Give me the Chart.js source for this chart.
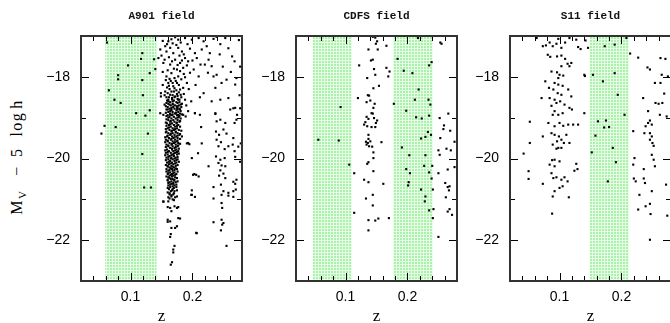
<!DOCTYPE html>
<html>
<head>
<meta charset="utf-8">
<script src="https://cdn.jsdelivr.net/npm/chart.js@4/dist/chart.umd.min.js"></script>
<style>
  body { margin: 0; width: 670px; height: 323px; overflow: hidden; background: #fff; position: relative; }
  canvas { position: absolute; top: 0; }
  #ylab {
    position: absolute; left: 19px; top: 157px;
    transform: translate(-50%, -50%) rotate(-90deg);
    white-space: nowrap; font: 16px 'Liberation Serif', serif; color: #000;
    line-height: 18px; letter-spacing: 1.5px;
  }
  #ylab sub { font-size: 11px; vertical-align: -4px; }
</style>
</head>
<body>
<canvas id="c1" width="210" height="323" style="left:40px"></canvas>
<canvas id="c2" width="210" height="323" style="left:255px"></canvas>
<canvas id="c3" width="210" height="323" style="left:469px"></canvas>
<div id="ylab"><span>M<sub>V</sub></span><span style="margin-left:14px">−</span><span style="margin-left:8px">5</span><span style="margin-left:11px">log</span><span style="margin-left:3px">h</span></div>
<script>
// axes
const zRange = [0.02, 0.28];
const mRange = [-23, -17];
const zTicks = [0.1, 0.2];
const mTicks = [-22, -20, -18];
const zMinorTicks = [0.04, 0.06, 0.08, 0.12, 0.14, 0.16, 0.18, 0.22, 0.24, 0.26];
const mMinorTicks = [-21, -19];

// shaded redshift windows
const a901Bands = [[0.059, 0.142]];
const cdfsBands = [[0.047, 0.110], [0.177, 0.241]];
const s11Bands = [[0.149, 0.212]];

// A901 field  [z, M_V - 5 log h]
const a901Fore = [
  [0.062,-17.16],[0.119,-17.42],[0.117,-17.56],[0.096,-17.72],[0.131,-17.91],[0.080,-17.96],[0.080,-18.06],
  [0.119,-18.08],[0.065,-18.33],[0.120,-18.45],[0.074,-18.56],[0.084,-18.64],[0.131,-18.82],[0.109,-18.89],
  [0.124,-18.95],[0.058,-19.20],[0.076,-19.23],[0.053,-19.39],[0.128,-19.39],[0.119,-19.89],[0.122,-20.71],
  [0.133,-20.71],[0.138,-17.57],[0.140,-17.81]
];
const a901Top = [
  [0.264,-17.50],[0.268,-17.62],[0.271,-18.03],[0.255,-18.07],[0.269,-18.19],[0.234,-17.99],[0.239,-17.95],
  [0.247,-18.15],[0.237,-18.27],[0.231,-17.74],[0.220,-17.70],[0.226,-17.58],[0.215,-17.33],[0.223,-17.25],
  [0.234,-17.07],[0.239,-17.02],[0.253,-17.05],[0.210,-17.05],[0.218,-17.13],[0.204,-17.42],[0.207,-17.54],
  [0.193,-17.62],[0.202,-17.82],[0.210,-17.99],[0.218,-18.40],[0.231,-18.60],[0.245,-18.56],[0.258,-18.52],
  [0.261,-18.80],[0.269,-18.76],[0.237,-18.89],[0.204,-18.89],[0.193,-18.84],[0.188,-18.56],[0.185,-18.27],
  [0.191,-18.15],[0.199,-17.09],[0.188,-17.05],[0.177,-17.09],[0.172,-17.03],[0.166,-17.08],[0.161,-17.13],
  [0.156,-17.25],[0.148,-17.33],[0.145,-17.54],[0.150,-17.48],[0.153,-17.66],[0.158,-17.38],[0.164,-17.29],
  [0.169,-17.42],[0.177,-17.29],[0.183,-17.38],[0.172,-17.58],[0.164,-17.70],[0.180,-17.66],[0.188,-17.54],
  [0.185,-17.78],[0.175,-17.82],[0.166,-17.91],[0.158,-17.99],[0.171,-18.03],[0.177,-17.99],[0.161,-18.15],
  [0.169,-18.23],[0.175,-18.15],[0.180,-18.31],[0.156,-18.36],[0.164,-18.44],[0.172,-18.48],[0.177,-18.56],
  [0.161,-18.60],[0.169,-18.68],[0.175,-18.76],[0.166,-18.80],[0.173,-18.89],[0.164,-18.93],[0.177,-18.93],
  [0.155,-18.68],[0.149,-18.48],[0.148,-18.89],
  [0.152,-17.12],[0.159,-17.20],[0.168,-17.18],[0.174,-17.22],[0.181,-17.16],[0.192,-17.20],[0.196,-17.31],
  [0.186,-17.45],[0.179,-17.48],[0.162,-17.52],[0.155,-17.58],[0.167,-17.62],[0.176,-17.71],[0.183,-17.60],
  [0.191,-17.72],[0.196,-17.90],[0.186,-17.93],[0.180,-17.86],[0.170,-17.80],[0.160,-17.84],[0.152,-17.88],
  [0.157,-18.08],[0.165,-18.10],[0.173,-18.10],[0.182,-18.06],[0.188,-18.01],[0.194,-18.30],[0.186,-18.42],
  [0.178,-18.38],[0.170,-18.36],[0.163,-18.30],[0.152,-18.20],[0.158,-18.50],[0.167,-18.55],[0.182,-18.50],
  [0.190,-18.70],[0.183,-18.66],[0.180,-18.80],[0.160,-18.80],[0.205,-18.20],[0.198,-18.60],[0.212,-18.50],
  [0.225,-17.90],[0.213,-17.70],[0.200,-17.60],[0.228,-17.42],[0.244,-17.45],[0.249,-17.75],[0.245,-17.20],
  [0.258,-17.30],[0.275,-17.10],[0.262,-17.88],[0.276,-18.45],[0.277,-17.75],
  [0.160,-18.40],[0.168,-18.45],[0.175,-18.42],[0.162,-18.22],[0.171,-18.28],[0.178,-18.20],[0.166,-18.36],
  [0.159,-18.26],[0.174,-18.33],[0.181,-18.44],[0.155,-18.45],[0.168,-18.15],[0.163,-18.05],[0.176,-18.47]
];
const a901Core = [
  [0.162,-18.50],[0.171,-18.50],[0.176,-18.54],
  [0.159,-18.58],[0.170,-18.58],[0.164,-18.62],[0.174,-18.62],[0.179,-18.62],
  [0.161,-18.66],[0.168,-18.66],[0.165,-18.70],[0.172,-18.70],[0.178,-18.70],
  [0.160,-18.74],[0.169,-18.74],[0.176,-18.74],[0.182,-18.74],[0.163,-18.78],[0.171,-18.78],[0.179,-18.78],
  [0.166,-18.82],[0.174,-18.82],[0.161,-18.86],[0.168,-18.86],[0.177,-18.86],
  [0.164,-18.90],[0.172,-18.90],[0.180,-18.90],[0.160,-18.94],[0.167,-18.94],[0.175,-18.94],
  [0.163,-18.98],[0.170,-18.98],[0.178,-18.98],[0.166,-19.02],[0.173,-19.02],[0.181,-19.02],
  [0.161,-19.06],[0.169,-19.06],[0.176,-19.06],[0.164,-19.10],[0.171,-19.10],[0.179,-19.10],
  [0.159,-19.14],[0.167,-19.14],[0.174,-19.14],[0.162,-19.18],[0.170,-19.18],[0.177,-19.18],
  [0.165,-19.22],[0.172,-19.22],[0.180,-19.22],[0.160,-19.26],[0.168,-19.26],[0.175,-19.26],
  [0.163,-19.30],[0.170,-19.30],[0.178,-19.30],[0.158,-19.34],[0.166,-19.34],[0.173,-19.34],
  [0.161,-19.38],[0.168,-19.38],[0.176,-19.38],[0.164,-19.42],[0.171,-19.42],[0.179,-19.42],
  [0.159,-19.46],[0.167,-19.46],[0.174,-19.46],[0.162,-19.50],[0.169,-19.50],[0.176,-19.50],
  [0.157,-19.54],[0.165,-19.54],[0.172,-19.54],[0.160,-19.58],[0.168,-19.58],[0.175,-19.58],
  [0.163,-19.62],[0.170,-19.62],[0.177,-19.62],[0.158,-19.66],[0.166,-19.66],[0.173,-19.66],
  [0.161,-19.70],[0.168,-19.70],[0.176,-19.70],[0.164,-19.74],[0.171,-19.74],
  [0.159,-19.78],[0.167,-19.78],[0.174,-19.78],[0.162,-19.82],[0.169,-19.82],[0.177,-19.82],
  [0.157,-19.86],[0.165,-19.86],[0.172,-19.86],[0.160,-19.90],[0.168,-19.90],[0.175,-19.90],
  [0.163,-19.94],[0.170,-19.94],[0.158,-19.98],[0.166,-19.98],[0.173,-19.98],
  [0.161,-20.02],[0.168,-20.02],[0.176,-20.02],[0.164,-20.06],[0.171,-20.06],
  [0.159,-20.10],[0.167,-20.10],[0.174,-20.10],[0.162,-20.14],[0.169,-20.14],
  [0.160,-20.18],[0.166,-20.18],[0.173,-20.18],[0.163,-20.22],[0.170,-20.22],
  [0.158,-20.26],[0.167,-20.26],[0.175,-20.26],[0.161,-20.30],[0.168,-20.30],
  [0.164,-20.34],[0.171,-20.34],[0.160,-20.38],[0.167,-20.38],[0.174,-20.38],
  [0.163,-20.42],[0.169,-20.42],[0.161,-20.46],[0.172,-20.46],[0.165,-20.50],[0.168,-20.50],
  [0.160,-20.54],[0.170,-20.54],[0.163,-20.58],[0.173,-20.58],[0.166,-20.62],[0.169,-20.62],
  [0.161,-20.66],[0.171,-20.66],[0.164,-20.70],[0.174,-20.70],[0.162,-20.75],[0.168,-20.75],
  [0.165,-20.80],[0.171,-20.80],[0.163,-20.85],[0.170,-20.85],[0.166,-20.90],
  [0.161,-20.95],[0.172,-20.95],[0.168,-21.00]
];
const a901Core2 = [
  [0.167,-18.52],[0.161,-18.56],[0.179,-18.56],[0.168,-18.60],
  [0.158,-18.64],[0.176,-18.64],[0.163,-18.68],[0.181,-18.68],[0.157,-18.72],[0.175,-18.72],
  [0.166,-18.76],[0.158,-18.80],[0.176,-18.80],[0.164,-18.84],[0.181,-18.84],
  [0.157,-18.88],[0.173,-18.88],[0.168,-18.92],[0.183,-18.92],[0.158,-18.96],[0.179,-18.96],
  [0.161,-19.00],[0.176,-19.00],[0.158,-19.04],[0.165,-19.08],[0.180,-19.08],
  [0.157,-19.12],[0.175,-19.12],[0.164,-19.16],[0.158,-19.20],[0.175,-19.20],
  [0.162,-19.24],[0.157,-19.28],[0.172,-19.28],[0.167,-19.32],[0.182,-19.32],
  [0.157,-19.36],[0.173,-19.36],[0.165,-19.40],[0.180,-19.40],[0.160,-19.44],[0.176,-19.44],
  [0.156,-19.48],[0.171,-19.48],[0.166,-19.52],[0.180,-19.52],[0.160,-19.56],[0.176,-19.56],
  [0.156,-19.60],[0.172,-19.60],[0.167,-19.64],[0.180,-19.64],[0.161,-19.68],[0.177,-19.68],
  [0.157,-19.72],[0.173,-19.72],[0.167,-19.76],[0.178,-19.76],[0.156,-19.80],[0.172,-19.80],
  [0.160,-19.84],[0.175,-19.84],[0.170,-19.88],[0.178,-19.88],[0.156,-19.92],[0.166,-19.92],
  [0.161,-19.96],[0.176,-19.96],[0.165,-20.00],[0.171,-20.00],[0.157,-20.04],[0.174,-20.04],
  [0.162,-20.08],[0.178,-20.08],[0.165,-20.12],[0.172,-20.12],[0.157,-20.16],[0.176,-20.16],
  [0.168,-20.20],[0.160,-20.20],[0.165,-20.24],[0.173,-20.24],[0.163,-20.28],[0.171,-20.28],
  [0.158,-20.32],[0.176,-20.32],[0.161,-20.36],[0.169,-20.36],[0.165,-20.40],[0.172,-20.40],
  [0.158,-20.44],[0.167,-20.44],[0.163,-20.48],[0.175,-20.48],[0.160,-20.52],[0.171,-20.52],
  [0.166,-20.56],[0.176,-20.56],[0.161,-20.60],[0.169,-20.60],[0.164,-20.64],[0.174,-20.64],
  [0.168,-20.68],[0.160,-20.72],[0.170,-20.72],[0.167,-20.78],[0.175,-20.78],[0.160,-20.83],
  [0.169,-20.88],[0.163,-20.88],[0.166,-20.93],[0.175,-20.93],[0.163,-20.98],[0.170,-21.02]
];
const a901Back = [
  [0.185,-18.93],[0.189,-18.97],[0.204,-18.89],[0.214,-19.23],[0.237,-18.91],[0.193,-19.62],[0.183,-19.46],
  [0.209,-19.87],[0.226,-20.19],[0.199,-19.99],[0.201,-20.40],[0.210,-20.44],[0.199,-20.78],[0.239,-19.09],
  [0.245,-19.05],[0.253,-19.13],[0.238,-19.34],[0.243,-19.42],[0.250,-19.29],[0.255,-19.39],[0.239,-19.54],
  [0.246,-19.60],[0.242,-19.70],[0.252,-19.77],[0.258,-19.70],[0.265,-19.66],[0.268,-19.82],[0.238,-19.95],
  [0.245,-20.03],[0.252,-19.99],[0.242,-20.11],[0.247,-20.17],[0.253,-20.19],[0.245,-20.29],[0.250,-20.37],
  [0.243,-20.42],[0.253,-20.48],[0.246,-20.64],[0.234,-20.70],[0.250,-20.80],[0.266,-20.80],[0.270,-20.76],
  [0.271,-19.05],[0.268,-19.13],[0.258,-20.84],
  [0.161,-21.05],[0.171,-21.17],[0.164,-21.21],[0.175,-21.21],[0.177,-21.19],[0.160,-21.19],[0.153,-21.05],
  [0.166,-21.29],[0.198,-20.89],[0.204,-20.94],[0.234,-20.98],[0.247,-20.89],[0.258,-20.91],[0.266,-20.94],
  [0.247,-21.09],[0.248,-21.21],[0.160,-21.50],[0.164,-21.54],[0.177,-21.46],[0.180,-21.47],[0.175,-21.66],
  [0.172,-21.70],[0.166,-21.70],[0.165,-21.85],[0.164,-21.92],[0.247,-21.50],[0.248,-21.62],[0.250,-21.58],
  [0.246,-21.76],[0.234,-21.56],[0.206,-21.82],[0.255,-22.14],[0.171,-22.14],[0.169,-22.23],[0.169,-22.30],
  [0.167,-22.54],[0.165,-22.60],
  [0.191,-19.63],[0.195,-19.65],[0.212,-18.93],[0.215,-19.63],[0.203,-20.38],[0.206,-20.40],[0.199,-20.89],
  [0.207,-21.83],[0.149,-18.40],[0.153,-18.93],[0.153,-21.06],[0.160,-21.55],
  [0.277,-18.77],[0.266,-18.77],[0.272,-18.93],[0.266,-19.50],[0.274,-19.71],[0.278,-19.63],[0.269,-19.96],
  [0.277,-20.08],[0.271,-20.52],[0.266,-20.57],[0.269,-20.62]
];

// CDFS field
const cdfsPoints = [
  [0.144,-17.02],[0.148,-17.04],[0.151,-17.13],[0.149,-17.19],[0.166,-17.24],[0.152,-17.33],[0.137,-17.33],
  [0.144,-17.58],[0.141,-17.60],[0.122,-17.72],[0.146,-17.81],[0.166,-17.78],[0.171,-17.87],[0.148,-17.95],
  [0.135,-18.03],[0.169,-17.99],[0.154,-18.22],[0.145,-18.28],[0.120,-18.52],[0.136,-18.45],[0.138,-18.46],
  [0.140,-18.58],[0.134,-18.62],[0.147,-18.66],[0.145,-18.76],[0.092,-18.74],[0.142,-18.89],[0.144,-18.90],
  [0.134,-18.98],[0.137,-19.03],[0.146,-19.01],[0.149,-19.13],[0.151,-19.07],[0.132,-19.11],[0.130,-19.17],
  [0.135,-19.21],[0.142,-19.23],[0.148,-19.23],[0.137,-19.42],[0.137,-19.52],[0.133,-19.59],[0.136,-19.62],
  [0.140,-19.58],[0.134,-19.66],[0.138,-19.70],[0.158,-19.60],[0.143,-19.71],[0.056,-19.54],[0.089,-19.56],
  [0.145,-19.85],[0.106,-20.15],[0.114,-20.36],[0.137,-20.09],[0.135,-20.13],[0.145,-19.99],[0.145,-20.31],
  [0.130,-20.52],[0.137,-20.58],[0.161,-20.62],[0.144,-20.89],[0.133,-20.98],[0.144,-21.15],[0.114,-21.33],
  [0.137,-21.51],[0.148,-21.52],[0.153,-21.47],[0.170,-21.46],[0.137,-21.76],
  [0.184,-17.56],[0.194,-17.85],[0.208,-17.91],[0.235,-17.72],[0.239,-17.64],[0.253,-17.16],[0.255,-17.19],
  [0.217,-17.05],[0.218,-18.31],[0.212,-18.56],[0.234,-18.56],[0.237,-18.68],[0.178,-18.66],[0.198,-18.83],
  [0.214,-18.99],[0.223,-19.02],[0.235,-18.95],[0.266,-18.90],[0.259,-19.19],[0.258,-19.28],[0.269,-19.32],
  [0.233,-19.35],[0.229,-19.47],[0.222,-19.51],[0.238,-19.42],[0.253,-19.50],[0.276,-19.59],[0.191,-19.73],
  [0.203,-19.92],[0.229,-19.92],[0.250,-19.80],[0.252,-19.91],[0.263,-19.76],[0.270,-19.80],[0.276,-20.21],
  [0.198,-20.26],[0.204,-20.36],[0.227,-20.18],[0.235,-20.34],[0.240,-20.18],[0.250,-20.36],[0.265,-20.27],
  [0.202,-20.58],[0.201,-20.66],[0.239,-20.49],[0.241,-20.76],[0.222,-20.76],[0.261,-20.60],[0.265,-20.70],
  [0.268,-20.68],[0.267,-20.78],[0.262,-20.95],[0.229,-20.93],[0.228,-21.05],[0.235,-21.27],[0.242,-21.24],
  [0.241,-21.46],[0.265,-21.30],[0.268,-21.24],[0.272,-21.38],[0.250,-21.92],[0.252,-19.01]
];

// S11 field
const s11Points = [
  [0.063,-17.05],[0.073,-17.25],[0.078,-17.23],[0.084,-17.16],[0.089,-17.25],[0.095,-17.19],[0.098,-17.07],
  [0.103,-17.29],[0.109,-17.16],[0.116,-17.05],[0.127,-17.09],[0.130,-17.27],[0.134,-17.32],[0.142,-17.11],
  [0.146,-17.29],[0.081,-17.46],[0.085,-17.51],[0.096,-17.50],[0.103,-17.48],[0.109,-17.56],[0.113,-17.68],
  [0.119,-17.66],[0.116,-17.74],[0.103,-17.74],[0.087,-17.87],[0.096,-17.89],[0.100,-17.95],[0.106,-17.97],
  [0.098,-18.03],[0.077,-18.11],[0.092,-18.15],[0.098,-18.19],[0.105,-18.22],[0.083,-18.27],[0.090,-18.31],
  [0.097,-18.40],[0.103,-18.44],[0.114,-18.31],[0.119,-18.48],[0.140,-17.95],[0.141,-17.98],[0.071,-18.52],
  [0.084,-18.52],[0.092,-18.56],[0.095,-18.64],[0.101,-18.60],[0.108,-18.68],[0.087,-18.71],[0.116,-18.76],
  [0.120,-18.80],[0.140,-18.89],[0.092,-18.84],[0.089,-18.93],[0.098,-18.93],[0.105,-18.89],[0.052,-19.10],
  [0.082,-19.13],[0.092,-19.21],[0.100,-19.13],[0.106,-19.20],[0.114,-19.17],[0.122,-19.17],[0.130,-19.17],
  [0.073,-19.46],[0.087,-19.38],[0.092,-19.42],[0.099,-19.46],[0.103,-19.54],[0.111,-19.42],[0.096,-19.58],
  [0.089,-19.66],[0.107,-19.62],[0.116,-19.62],[0.098,-19.74],[0.095,-19.76],[0.103,-19.74],[0.052,-19.62],
  [0.042,-19.88],[0.050,-20.31],[0.050,-20.50],[0.073,-20.62],[0.088,-20.04],[0.092,-20.03],[0.084,-20.15],
  [0.100,-20.07],[0.092,-20.19],[0.087,-20.36],[0.095,-20.46],[0.090,-20.48],[0.103,-20.52],[0.108,-20.46],
  [0.113,-20.56],[0.127,-20.13],[0.129,-20.26],[0.124,-20.30],[0.100,-20.72],[0.105,-20.68],[0.092,-20.80],
  [0.089,-20.93],[0.115,-20.95],[0.088,-21.35],
  [0.154,-17.95],[0.173,-17.25],[0.189,-17.21],[0.208,-17.05],[0.189,-17.91],[0.194,-18.44],[0.170,-18.11],
  [0.205,-18.93],[0.162,-19.09],[0.175,-19.07],[0.172,-19.24],[0.180,-19.23],[0.158,-19.44],[0.186,-19.74],
  [0.152,-19.85],[0.191,-20.09],[0.178,-20.56],
  [0.214,-17.43],[0.227,-17.53],[0.242,-17.77],[0.246,-17.82],[0.263,-17.54],[0.271,-17.56],[0.265,-17.95],
  [0.275,-17.99],[0.254,-18.15],[0.263,-18.15],[0.269,-18.41],[0.255,-18.64],[0.260,-18.66],[0.266,-18.64],
  [0.235,-18.52],[0.243,-18.84],[0.262,-18.93],[0.273,-18.97],[0.246,-19.07],[0.243,-19.13],[0.249,-19.17],
  [0.239,-19.21],[0.219,-19.33],[0.237,-19.38],[0.246,-19.38],[0.249,-19.46],[0.246,-19.54],[0.250,-19.62],
  [0.252,-19.69],[0.221,-19.99],[0.249,-19.91],[0.252,-20.03],[0.219,-20.15],[0.236,-20.26],[0.254,-20.19],
  [0.220,-20.49],[0.223,-20.56],[0.236,-20.49],[0.238,-20.60],[0.249,-20.80],[0.272,-20.64],[0.229,-20.89],
  [0.227,-21.25],[0.239,-21.17],[0.246,-21.11],[0.247,-21.36],[0.274,-21.40],[0.246,-21.99]
];

function hatchPattern(ctx) {
  const tile = document.createElement('canvas');
  tile.width = 3; tile.height = 3;
  const t = tile.getContext('2d');
  t.fillStyle = 'rgb(170,242,170)';
  t.fillRect(0, 0, 3, 3);
  t.fillStyle = 'rgb(232,253,232)';
  t.fillRect(0, 0, 3, 1);
  t.fillRect(0, 0, 1, 3);
  return ctx.createPattern(tile, 'repeat');
}

const framePlugin = {
  id: 'frame',
  beforeDatasetsDraw(chart, args, opts) {
    const { ctx, chartArea: a, scales: { x } } = chart;
    ctx.save();
    ctx.fillStyle = hatchPattern(ctx);
    opts.bands.forEach(([z0, z1]) => {
      const x0 = x.getPixelForValue(z0), x1 = x.getPixelForValue(z1);
      ctx.fillRect(x0, a.top, x1 - x0, a.bottom - a.top);
    });
    ctx.restore();
  },
  afterDatasetsDraw(chart, args, opts) {
    const { ctx, chartArea: a, scales: { x, y } } = chart;
    ctx.save();
    ctx.strokeStyle = '#000';
    ctx.lineWidth = 1;
    const xt = (v, len) => {
      const p = Math.round(x.getPixelForValue(v)) + 0.5;
      ctx.beginPath();
      ctx.moveTo(p, a.bottom); ctx.lineTo(p, a.bottom - len);
      ctx.moveTo(p, a.top); ctx.lineTo(p, a.top + len);
      ctx.stroke();
    };
    const yt = (v, len) => {
      const p = Math.round(y.getPixelForValue(v)) + 0.5;
      ctx.beginPath();
      ctx.moveTo(a.left, p); ctx.lineTo(a.left + len, p);
      ctx.moveTo(a.right, p); ctx.lineTo(a.right - len, p);
      ctx.stroke();
    };
    zMinorTicks.forEach(v => xt(v, 5));
    zTicks.forEach(v => xt(v, 8));
    mMinorTicks.forEach(v => yt(v, 5));
    mTicks.forEach(v => yt(v, 8));
    ctx.strokeStyle = '#333';
    ctx.lineWidth = 2;
    ctx.strokeRect(a.left, a.top, a.right - a.left, a.bottom - a.top);

    // panel title, centred over the plot box
    ctx.fillStyle = '#111';
    ctx.font = "bold 11px 'Liberation Mono', monospace";
    ctx.textAlign = 'center';
    ctx.textBaseline = 'middle';
    ctx.fillText(opts.title, (a.left + a.right) / 2, 16);
    ctx.restore();
  }
};

function makePanel(id, title, groups, bands) {
  const toXY = pts => pts.map(p => ({ x: p[0], y: p[1] }));
  const allPts = [].concat(...groups);
  new Chart(document.getElementById(id), {
    type: 'scatter',
    data: {
      datasets: [{
        data: toXY(allPts),
        pointStyle: 'rect',
        pointRadius: 1.5,
        pointBorderWidth: 0,
        backgroundColor: '#000',
        borderColor: '#000'
      }]
    },
    options: {
      responsive: false,
      animation: false,
      events: [],
      layout: { padding: { left: 0, right: 8, top: 36, bottom: 0 } },
      plugins: {
        legend: { display: false },
        tooltip: { enabled: false },
        frame: { bands: bands, title: title }
      },
      scales: {
        x: {
          type: 'linear',
          min: zRange[0],
          max: zRange[1],
          afterBuildTicks: s => { s.ticks = zTicks.map(v => ({ value: v })); },
          afterFit: s => { s.height = 42; },
          grid: { display: false, drawTicks: false },
          border: { display: false },
          ticks: {
            color: '#000',
            padding: 8,
            maxRotation: 0,
            autoSkip: false,
            font: { family: "'Liberation Sans', sans-serif", size: 14 },
            callback: v => v.toFixed(1)
          },
          title: {
            display: true,
            text: 'z',
            color: '#000',
            font: { family: "'Liberation Serif', serif", size: 17, lineHeight: 1 },
            padding: { top: 0, bottom: -2 }
          }
        },
        y: {
          type: 'linear',
          min: mRange[0],
          max: mRange[1],
          afterBuildTicks: s => { s.ticks = mTicks.map(v => ({ value: v })); },
          afterFit: s => { s.width = 41; },
          grid: { display: false, drawTicks: false },
          border: { display: false },
          ticks: {
            color: '#000',
            padding: 11,
            font: { family: "'Liberation Sans', sans-serif", size: 14 },
            callback: v => String(v).replace('-', '\u2212')
          }
        }
      }
    },
    plugins: [framePlugin]
  });
}

makePanel('c1', 'A901 field', [a901Fore, a901Top, a901Core, a901Core2, a901Back], a901Bands);
makePanel('c2', 'CDFS field', [cdfsPoints], cdfsBands);
makePanel('c3', 'S11 field', [s11Points], s11Bands);
</script>
</body>
</html>
